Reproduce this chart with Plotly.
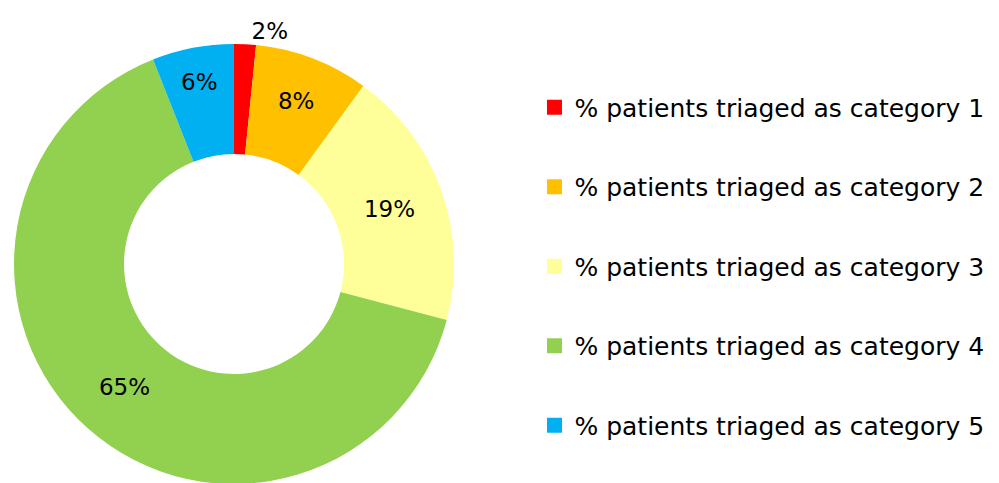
import plotly.graph_objects as go

# triage category shares (percent of patients)
categories = ['% patients triaged as category 1', '% patients triaged as category 2',
              '% patients triaged as category 3', '% patients triaged as category 4',
              '% patients triaged as category 5']
shares = [1.6, 8.4, 19.1, 64.9, 6.0]
colors = ['#FF0000', '#FFC000', '#FFFF99', '#92D050', '#00B0F0']
text_pos = ['outside', 'inside', 'inside', 'inside', 'inside']

FONT = 'DejaVu Sans'

fig = go.Figure()

fig.add_trace(go.Pie(
    labels=categories,
    values=shares,
    marker=dict(colors=colors, line=dict(width=0)),
    hole=0.5,
    sort=False,
    direction='clockwise',
    rotation=0,
    texttemplate='%{percent:.0%}',
    textposition=text_pos,
    insidetextorientation='horizontal',
    textfont=dict(family=FONT, size=23, color='black'),
    showlegend=False,
    domain=dict(x=[0.006, 0.4465], y=[0.0145, 0.9255]),
))

# legend entries drawn as dummy square markers so the rows can be spaced out
for i, (name, c) in enumerate(zip(categories, colors)):
    fig.add_trace(go.Scatter(
        x=[None], y=[None], mode='markers', name=name,
        marker=dict(symbol='square', size=15, color=c),
        legendgroup=str(i), showlegend=True,
    ))

fig.update_layout(
    width=999, height=483,
    margin=dict(l=0, r=0, t=0, b=0),
    paper_bgcolor='white', plot_bgcolor='white',
    font=dict(family=FONT, size=25, color='black'),
    xaxis=dict(visible=False), yaxis=dict(visible=False),
    legend=dict(x=0.527, y=0.465, xanchor='left', yanchor='middle',
                tracegroupgap=44, font=dict(family=FONT, size=25)),
)

fig.write_html("out.html")
